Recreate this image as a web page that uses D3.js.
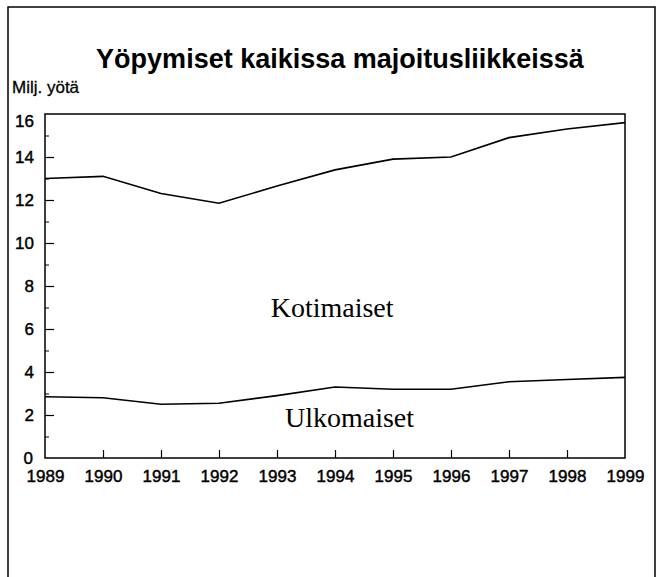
<!DOCTYPE html>
<html>
<head>
<meta charset="utf-8">
<script src="https://cdn.jsdelivr.net/npm/d3@7"></script>
<style>
  body { margin: 0; background: #fff; }
  svg { display: block; }
</style>
</head>
<body>
<div id="chart"></div>
<script>
"use strict";

const years = [1989, 1990, 1991, 1992, 1993, 1994, 1995, 1996, 1997, 1998, 1999];
// total nights (Kotimaiset + Ulkomaiset), millions
const totalNights = [13.0, 13.1, 12.3, 11.85, 12.65, 13.4, 13.9, 14.0, 14.9, 15.3, 15.6];
// foreign nights, millions
const foreignNights = [2.85, 2.8, 2.5, 2.55, 2.9, 3.3, 3.2, 3.2, 3.55, 3.65, 3.75];
const majorTicks = [0, 2, 4, 6, 8, 10, 12, 14, 16];
const minorTicks = [1, 3, 5, 7, 9, 11, 13, 15];

const cont = {
    width: 661,
    height: 577,
    left: 45,
    right: 625,
    top: 114,
    bottom: 458,
}

const svg = d3.select("#chart")
    .append("svg")
    .attr("width", cont.width)
    .attr("height", cont.height);

// outer frame
svg.append("rect")
    .attr("x", 8)
    .attr("y", 7)
    .attr("width", 647)
    .attr("height", 600)
    .attr("fill", "none")
    .attr("stroke", "#000")
    .attr("stroke-width", 1.5);

svg.append("text")
    .attr("x", 340)
    .attr("y", 68)
    .attr("text-anchor", "middle")
    .style("font-family", "'Liberation Sans', Arial, sans-serif")
    .style("font-weight", "bold")
    .style("font-size", "27px")
    .text("Yöpymiset kaikissa majoitusliikkeissä");

svg.append("text")
    .attr("x", 12)
    .attr("y", 93)
    .attr("stroke", "#000")
    .attr("stroke-width", 0.3)
    .style("font-family", "'Liberation Sans', Arial, sans-serif")
    .style("font-size", "17px")
    .text("Milj. yötä");

const xScale = d3.scaleLinear()
    .domain([1989, 1999])
    .range([cont.left, cont.right]);

const yScale = d3.scaleLinear()
    .domain([0, 16])
    .range([cont.bottom, cont.top]);

// y axis, major ticks with labels
const yAxis = svg.append("g")
    .attr("transform", "translate(" + cont.left + ",0)")
    .call(d3.axisLeft(yScale).tickValues(majorTicks).tickSize(-9).tickPadding(11));

// minor ticks
svg.append("g")
    .attr("transform", "translate(" + cont.left + ",0)")
    .call(d3.axisLeft(yScale).tickValues(minorTicks).tickSize(-4).tickFormat(""))
    .select(".domain").remove();

const xAxis = svg.append("g")
    .attr("transform", "translate(0," + cont.bottom + ")")
    .call(d3.axisBottom(xScale).tickValues(years).tickFormat(d3.format("d")).tickSize(-8).tickPadding(12));

[yAxis, xAxis].forEach((g) => {
    g.select(".domain").remove();
    g.selectAll("line").attr("stroke", "#000").attr("stroke-width", 1.2);
    g.selectAll("text")
        .attr("fill", "#000")
        .attr("stroke", "#000")
        .attr("stroke-width", 0.45)
        .style("font-family", "'Liberation Sans', Arial, sans-serif")
        .style("font-size", "17px");
});

// hide end ticks that fall on the box edges
yAxis.selectAll(".tick").filter((d) => d == 0 || d == 16).select("line").remove();
yAxis.selectAll(".tick").filter((d) => d == 16).select("text").attr("dy", "0.72em");
yAxis.selectAll(".tick").filter((d) => d == 0).select("text").attr("x", -12);
xAxis.selectAll(".tick").filter((d) => d == 1989 || d == 1999).select("line").remove();

// plot box
svg.append("rect")
    .attr("x", cont.left)
    .attr("y", cont.top)
    .attr("width", cont.right - cont.left)
    .attr("height", cont.bottom - cont.top)
    .attr("fill", "none")
    .attr("stroke", "#000")
    .attr("stroke-width", 1.5);

const valueLine = d3.line()
    .x((d, i) => xScale(years[i]))
    .y((d) => yScale(d));

svg.append("path")
    .datum(totalNights)
    .attr("fill", "none")
    .attr("stroke", "#000")
    .attr("stroke-width", 1.6)
    .attr("d", valueLine);

svg.append("path")
    .datum(foreignNights)
    .attr("fill", "none")
    .attr("stroke", "#000")
    .attr("stroke-width", 1.6)
    .attr("d", valueLine);

svg.append("text")
    .attr("x", xScale(1993.95))
    .attr("y", yScale(6.55))
    .attr("text-anchor", "middle")
    .style("font-family", "'Liberation Serif', 'Times New Roman', serif")
    .style("font-size", "28px")
    .text("Kotimaiset");

svg.append("text")
    .attr("x", xScale(1994.25))
    .attr("y", yScale(1.45))
    .attr("text-anchor", "middle")
    .style("font-family", "'Liberation Serif', 'Times New Roman', serif")
    .style("font-size", "28px")
    .text("Ulkomaiset");
</script>
</body>
</html>
